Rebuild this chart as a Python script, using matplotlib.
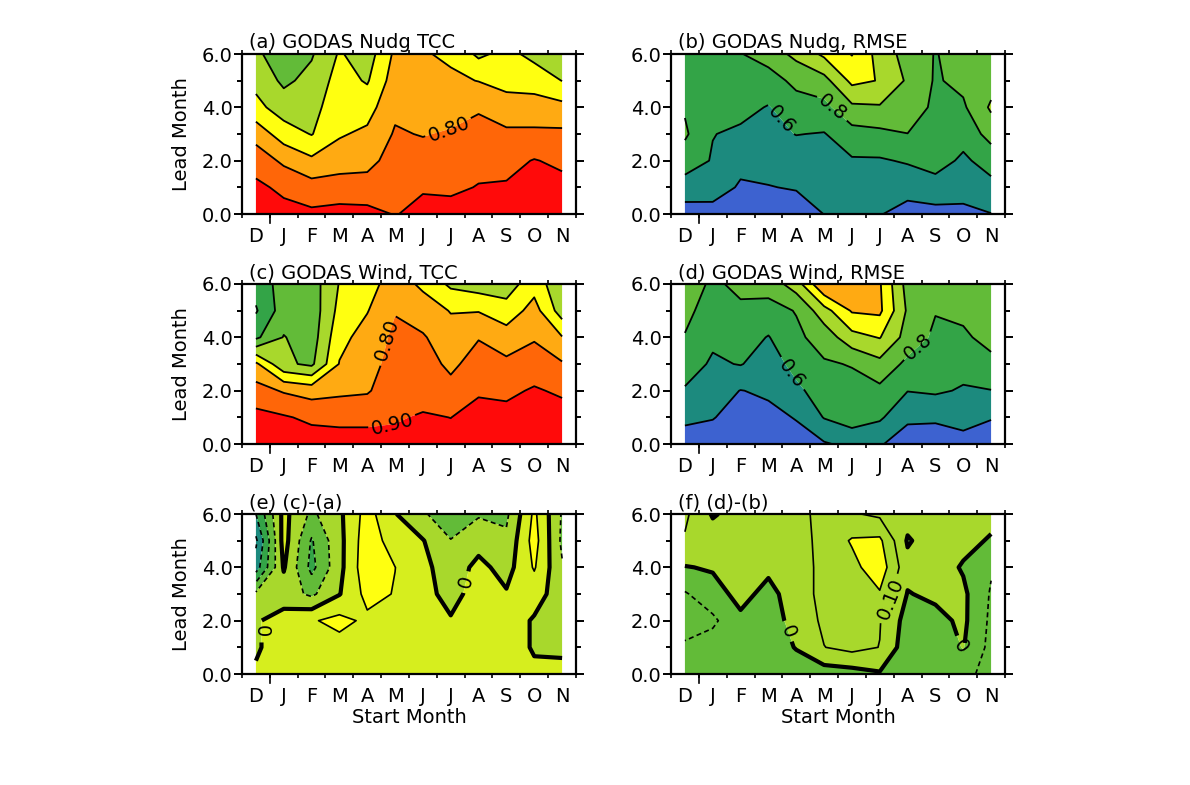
import numpy as np
import matplotlib
matplotlib.use('Agg')
import matplotlib.pyplot as plt
from matplotlib.ticker import FixedLocator

# start months (Dec .. Nov) and lead months 0..6
months = ['D', 'J', 'F', 'M', 'A', 'M', 'J', 'J', 'A', 'S', 'O', 'N']
leads = [0, 1, 2, 3, 4, 5, 6]

# one row per start month, values for lead 0..6
tcc_nudg = [
    [0.96, 0.92, 0.86, 0.76, 0.63, 0.57, 0.52],
    [0.93, 0.88, 0.78, 0.65, 0.55, 0.48, 0.44],
    [0.92, 0.84, 0.72, 0.595, 0.56, 0.53, 0.49],
    [0.93, 0.85, 0.75, 0.69, 0.67, 0.64, 0.61],
    [0.93, 0.84, 0.77, 0.72, 0.66, 0.59, 0.55],
    [0.895, 0.86, 0.84, 0.81, 0.78, 0.75, 0.72],
    [0.93, 0.89, 0.84, 0.795, 0.77, 0.74, 0.71],
    [0.94, 0.88, 0.84, 0.81, 0.76, 0.72, 0.68],
    [0.97, 0.905, 0.87, 0.83, 0.79, 0.697, 0.58],
    [0.97, 0.91, 0.87, 0.82, 0.74, 0.67, 0.63],
    [0.99, 0.95, 0.905, 0.82, 0.74, 0.66, 0.57],
    [0.97, 0.93, 0.88, 0.82, 0.73, 0.598, 0.53],
]
rmse_nudg = [
    [0.31, 0.51, 0.70, 0.83, 0.78, 0.74, 0.72],
    [0.30, 0.52, 0.585, 0.605, 0.66, 0.71, 0.76],
    [0.25, 0.37, 0.47, 0.57, 0.65, 0.72, 0.79],
    [0.33, 0.395, 0.45, 0.55, 0.59, 0.70, 0.90],
    [0.33, 0.41, 0.50, 0.605, 0.70, 0.86, 1.05],
    [0.402, 0.46, 0.53, 0.59, 0.74, 0.93, 1.24],
    [0.44, 0.51, 0.58, 0.72, 0.96, 1.25, 1.41],
    [0.41, 0.50, 0.58, 0.75, 0.98, 1.19, 1.12],
    [0.33, 0.47, 0.62, 0.798, 0.88, 0.97, 0.92],
    [0.33, 0.53, 0.67, 0.76, 0.77, 0.78, 0.79],
    [0.35, 0.48, 0.57, 0.66, 0.77, 0.85, 0.88],
    [0.395, 0.55, 0.67, 0.88, 1.03, 0.92, 0.86],
]
tcc_wind = [
    [0.98, 0.93, 0.84, 0.72, 0.38, 0.29, 0.34],
    [0.96, 0.91, 0.79, 0.52, 0.505, 0.45, 0.44],
    [0.95, 0.88, 0.76, 0.48, 0.45, 0.44, 0.45],
    [0.95, 0.87, 0.78, 0.705, 0.67, 0.63, 0.605],
    [0.95, 0.87, 0.79, 0.76, 0.74, 0.695, 0.66],
    [0.93, 0.89, 0.86, 0.84, 0.82, 0.795, 0.75],
    [0.96, 0.91, 0.86, 0.84, 0.81, 0.75, 0.68],
    [0.93, 0.899, 0.83, 0.78, 0.74, 0.695, 0.58],
    [0.97, 0.93, 0.89, 0.84, 0.795, 0.695, 0.55],
    [0.97, 0.93, 0.88, 0.82, 0.75, 0.64, 0.55],
    [0.98, 0.95, 0.91, 0.85, 0.79, 0.74, 0.66],
    [0.97, 0.94, 0.885, 0.81, 0.705, 0.55, 0.52],
]
rmse_wind = [
    [0.31, 0.44, 0.58, 0.70, 0.79, 0.85, 0.89],
    [0.30, 0.41, 0.49, 0.57, 0.64, 0.71, 0.77],
    [0.24, 0.32, 0.395, 0.61, 0.69, 0.77, 0.84],
    [0.27, 0.35, 0.43, 0.51, 0.59, 0.73, 0.88],
    [0.33, 0.41, 0.56, 0.66, 0.76, 0.81, 1.10],
    [0.38, 0.61, 0.69, 0.78, 0.88, 1.12, 1.60],
    [0.45, 0.70, 0.74, 0.81, 1.13, 1.42, 1.60],
    [0.42, 0.63, 0.75, 0.94, 1.21, 1.44, 1.42],
    [0.29, 0.44, 0.605, 0.75, 0.92, 0.97, 0.92],
    [0.33, 0.42, 0.63, 0.70, 0.76, 0.81, 0.86],
    [0.35, 0.45, 0.58, 0.67, 0.77, 0.84, 0.88],
    [0.31, 0.41, 0.595, 0.75, 0.86, 0.88, 0.89],
]
diff_tcc = [
    [0.01, -0.01, -0.01, -0.08, -0.35, -0.42, -0.30],
    [0.04, 0.04, 0.04, -0.05, 0.01, 0.04, 0.03],
    [0.05, 0.05, 0.09, -0.12, -0.23, -0.21, -0.12],
    [0.05, 0.06, 0.13, -0.005, -0.03, -0.03, -0.02],
    [0.04, 0.05, 0.08, 0.13, 0.17, 0.16, 0.14],
    [0.03, 0.04, 0.06, 0.095, 0.101, 0.05, 0.005],
    [0.04, 0.05, 0.05, 0.04, 0.03, 0.005, -0.09],
    [0.04, 0.03, 0.01, -0.04, -0.06, -0.097, -0.15],
    [0.05, 0.05, 0.05, 0.05, 0.03, -0.04, -0.11],
    [0.05, 0.05, 0.05, 0.01, -0.04, -0.08, -0.12],
    [0.02, -0.01, -0.01, 0.04, 0.11, 0.14, 0.12],
    [0.03, -0.02, -0.06, -0.05, -0.09, -0.12, -0.11],
]
diff_rmse = [
    [-0.05, -0.09, -0.13, -0.11, -0.005, 0.09, 0.12],
    [-0.04, -0.05, -0.12, -0.04, 0.01, 0.05, -0.01],
    [-0.05, -0.04, -0.02, 0.03, 0.05, 0.05, 0.04],
    [-0.06, -0.05, -0.04, -0.03, 0.02, 0.05, 0.06],
    [-0.05, 0.005, 0.03, 0.05, 0.05, 0.06, 0.07],
    [-0.05, 0.098, 0.12, 0.13, 0.13, 0.13, 0.13],
    [-0.04, 0.13, 0.15, 0.12, 0.17, 0.21, 0.11],
    [-0.01, 0.098, 0.105, 0.19, 0.26, 0.22, 0.08],
    [-0.08, -0.06, -0.04, -0.005, 0.03, -0.01, 0.04],
    [-0.07, -0.06, -0.03, 0.02, 0.05, 0.05, 0.05],
    [-0.06, 0.005, 0.02, 0.02, -0.01, 0.03, 0.05],
    [-0.15, -0.13, -0.12, -0.11, -0.09, -0.01, 0.03],
]

titles = ['(a) GODAS Nudg TCC', '(b) GODAS Nudg, RMSE',
          '(c) GODAS Wind, TCC', '(d) GODAS Wind, RMSE',
          '(e) (c)-(a)', '(f) (d)-(b)']

blue = '#3d62d0'
teal = '#1c8a7e'
green = '#33a447'
green2 = '#62bb38'
lgreen = '#a8d82c'
ygreen = '#d6ee1e'
yellow = '#ffff10'
orange = '#ffaa12'
ored = '#ff6608'
red = '#ff0a0a'

tcc_fill = [-1, 0.3, 0.4, 0.5, 0.6, 0.7, 0.8, 0.9, 2]
tcc_cols = [green, green, green2, lgreen, yellow, orange, ored, red]
rmse_fill = [0, 0.4, 0.6, 0.8, 1.0, 1.2, 1.4, 3]
rmse_cols = [blue, teal, green, green2, lgreen, yellow, orange]
dtcc_fill = [-1, -0.3, -0.2, -0.1, 0, 0.1, 1]
dtcc_cols = [teal, green, green2, lgreen, ygreen, yellow]
drmse_fill = [-1, 0, 0.2, 1]
drmse_cols = [green2, lgreen, yellow]

x = np.arange(len(months))
y = np.array(leads)

fig = plt.figure(figsize=(11.9, 7.85), dpi=100)
lefts = [242 / 1190, 671 / 1190]
bottoms = [1 - 214 / 785, 1 - 444 / 785, 1 - 674 / 785]
w = 334 / 1190
h = 160 / 785

dash = (0, (3, 2))


def line_style(kind, lv):
    # (linewidth, linestyle) of one contour level
    if kind != 'diff':
        return 1.3, 'solid'
    if lv == 0:
        return 3.0, 'solid'
    if lv < 0:
        return 1.2, dash
    return 1.2, 'solid'


def draw(ax, data, fill, cols, kind, labels):
    z = np.array(data).T
    ax.contourf(x, y, z, levels=fill, colors=cols, antialiased=True)
    if kind == 'diff':
        lines = [-0.4, -0.3, -0.2, -0.1, 0, 0.1, 0.2]
    else:
        lines = fill[1:-1]
    labelled = {}
    for lv, pos_xy, txt in labels:
        labelled.setdefault(lv, []).append((pos_xy, txt))
    for lv in lines:
        lw, ls = line_style(kind, lv)
        if z.min() >= lv or z.max() <= lv:
            continue
        cs = ax.contour(x, y, z, levels=[lv], colors='k', linewidths=lw,
                        linestyles=[ls])
        if lv in labelled:
            pts = [p for p, t in labelled[lv]]
            txt = labelled[lv][0][1]
            ax.clabel(cs, manual=pts, inline=True, fmt={lv: txt},
                      fontsize=14)


panels = [
    (tcc_nudg, tcc_fill, tcc_cols, 'tcc', [(0.8, (6.9, 3.3), '0.80')]),
    (rmse_nudg, rmse_fill, rmse_cols, 'rmse',
     [(0.6, (3.5, 3.6), '0.6'), (0.8, (5.3, 4.0), '0.8')]),
    (tcc_wind, tcc_fill, tcc_cols, 'tcc',
     [(0.8, (4.7, 3.9), '0.80'), (0.9, (4.9, 0.8), '0.90')]),
    (rmse_wind, rmse_fill, rmse_cols, 'rmse',
     [(0.6, (3.8, 2.6), '0.6'), (0.8, (8.5, 3.5), '0.8')]),
    (diff_tcc, dtcc_fill, dtcc_cols, 'diff',
     [(0, (0.1, 1.6), '0'), (0, (7.7, 3.4), '0')]),
    (diff_rmse, drmse_fill, drmse_cols, 'diff',
     [(0, (3.7, 1.6), '0'), (0.1, (7.4, 2.8), '0.10'), (0, (9.8, 1.0), '0')]),
]

for i, (data, fill, cols, kind, labels) in enumerate(panels):
    row, col = i // 2, i % 2
    ax = fig.add_axes([lefts[col], bottoms[row], w, h])
    draw(ax, data, fill, cols, kind, labels)

    ax.set_xlim(-0.5, 11.5)
    ax.set_ylim(0, 6)
    ax.set_xticks(x)
    ax.set_xticklabels(months)
    ax.xaxis.set_minor_locator(FixedLocator(np.arange(-0.5, 12, 1)))
    ax.tick_params(axis='x', which='major', length=0, pad=9, labelsize=14)
    ax.tick_params(axis='x', which='minor', direction='out', length=3,
                   width=1.2, top=True, bottom=True)
    # the one longer tick below the axis, between D and J
    ax.plot([0.5, 0.5], [0, -0.055], transform=ax.get_xaxis_transform(),
            color='k', lw=1.2, clip_on=False)
    ax.set_yticks([0, 2, 4, 6])
    ax.set_yticklabels(['0.0', '2.0', '4.0', '6.0'])
    ax.yaxis.set_minor_locator(FixedLocator([1, 3, 5]))
    ax.tick_params(axis='y', which='both', direction='out', left=True,
                   right=True, width=1.4)
    ax.tick_params(axis='y', which='major', length=5.5, labelsize=14, pad=1)
    ax.tick_params(axis='y', which='minor', length=3.5)
    for sp in ax.spines.values():
        sp.set_linewidth(1.6)

    if col == 0:
        ax.set_ylabel('Lead Month', fontsize=14, labelpad=8)
    if row == 2:
        ax.set_xlabel('Start Month', fontsize=14, labelpad=2)
    ax.text(0.02, 1.012, titles[i], transform=ax.transAxes, ha='left',
            va='bottom', fontsize=14)

fig.savefig('out.png', dpi=100)
